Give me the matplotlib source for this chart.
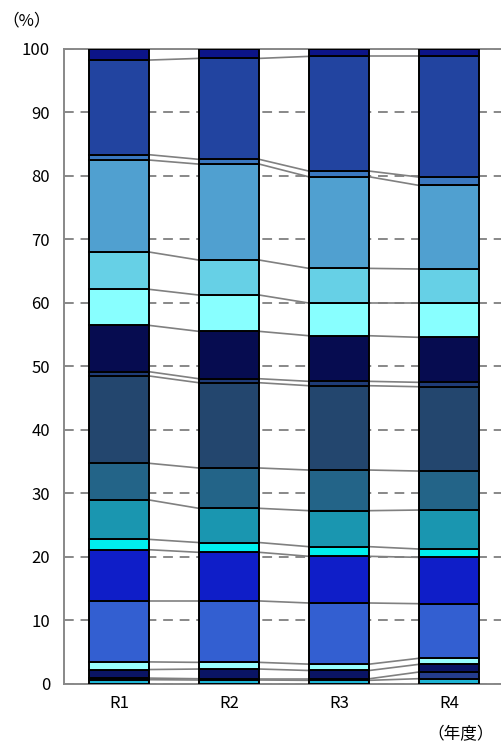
import numpy as np
import matplotlib.pyplot as plt

plt.rcParams['font.family'] = ['Noto Sans CJK JP', 'DejaVu Sans']

## data (%), stacked from bottom to top
years = ['R1', 'R2', 'R3', 'R4']

s01 = [0.60, 0.55, 0.50, 0.76]
s02 = [0.25, 0.20, 0.25, 1.05]
s03 = [1.35, 1.53, 1.30, 1.21]
s04 = [1.20, 1.05, 1.00, 0.95]
s05 = [9.60, 9.67, 9.63, 8.60]
s06 = [8.07, 7.66, 7.35, 7.30]
s07 = [1.63, 1.54, 1.52, 1.31]
s08 = [6.20, 5.39, 5.67, 6.14]
s09 = [5.78, 6.35, 6.40, 6.14]
s10 = [13.75, 13.43, 13.28, 13.28]
s11 = [0.67, 0.63, 0.69, 0.69]
s12 = [7.30, 7.46, 7.18, 7.09]
s13 = [5.68, 5.72, 5.15, 5.40]
s14 = [5.87, 5.51, 5.46, 5.36]
s15 = [14.49, 15.11, 14.42, 13.17]
s16 = [0.84, 0.75, 0.90, 1.31]
s17 = [14.91, 15.90, 18.07, 19.01]
s18 = [1.81, 1.55, 1.23, 1.23]

series = [s01, s02, s03, s04, s05, s06, s07, s08, s09,
          s10, s11, s12, s13, s14, s15, s16, s17, s18]
colors = ['#1eb4d4', '#243c8c', '#0a1464', '#99ffff', '#335fd1', '#0f1ec8',
          '#00eeee', '#1a96b0', '#236488', '#23466e', '#1f3c78', '#060c50',
          '#88ffff', '#66d0e6', '#50a0d0', '#3a78c0', '#2244a0', '#0c1488']

fig = plt.figure(figsize=(5.02, 7.47), dpi=100)
ax = fig.add_axes([0.1275, 0.085, 0.8725, 0.85])

ind = np.arange(1, len(years) + 1)
width = 0.55

bottom = np.zeros(len(years))
for vals, col in zip(series, colors):
    vals = np.array(vals)
    ax.bar(ind, vals, width, bottom=bottom, color=col,
           edgecolor='black', linewidth=1.4, zorder=3)
    top = bottom + vals
    # connecting lines between neighbouring bars
    for i in range(len(ind) - 1):
        ax.plot([ind[i] + width / 2, ind[i + 1] - width / 2],
                [top[i], top[i + 1]], color='#808080', lw=1.2, zorder=2)
    bottom = top

# axes
ax.set_xlim(0.5, 4.48)
ax.set_ylim(0, 100)
ax.set_yticks(np.arange(0, 101, 10))
ax.set_xticks(ind)
ax.set_xticklabels(years)
ax.tick_params(length=0, labelsize=12, colors='black')
ax.tick_params(axis='y', pad=10)
ax.tick_params(axis='x', pad=8)
ax.yaxis.grid(True, linestyle=(0, (5, 3.5)), color='#888888', lw=1.4, zorder=1)
ax.set_axisbelow(True)
for side in ['left', 'bottom', 'top']:
    ax.spines[side].set_color('#888888')
    ax.spines[side].set_linewidth(1.4)
ax.spines['right'].set_visible(False)

fig.text(27 / 502, 1 - 21 / 747, '（%）', ha='center', va='center', fontsize=12)
fig.text(461 / 502, 1 - 735 / 747, '（年度）', ha='center', va='center', fontsize=12)

fig.savefig('out.png', dpi=100)
